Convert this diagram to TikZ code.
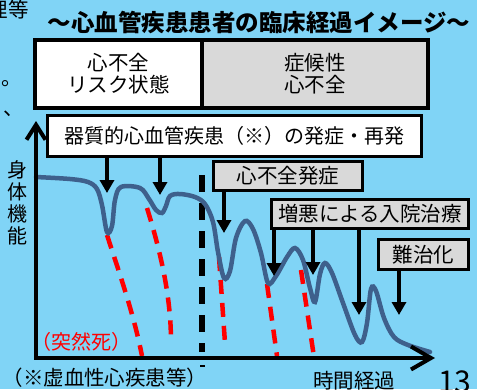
\documentclass[tikz,border=0pt]{standalone}
\usepackage{fontspec}
\setmainfont{Noto Sans CJK JP}
\usetikzlibrary{arrows.meta,positioning}
\definecolor{bgblue}{RGB}{128,212,246}
\definecolor{curveblue}{RGB}{62,96,140}
\definecolor{boxgray}{RGB}{217,217,217}

\begin{document}
\begin{tikzpicture}[x=1pt,y=-1pt,
  phase/.style={draw, line width=4pt, minimum height=68pt, inner sep=0pt, align=center, font=\fontsize{20.5}{24}\selectfont},
  event/.style={draw, line width=3pt, fill=boxgray, minimum height=29pt, inner sep=0pt, font=\fontsize{20.5}{24}\selectfont},
  hit/.style={line width=4pt, -{Triangle[width=14pt,length=13pt]}},
  death/.style={red, line width=4.5pt, dash pattern=on 14pt off 9pt},
  label/.style={font=\fontsize{20.5}{22}\selectfont, inner sep=0pt}]

  \fill[bgblue] (0,0) rectangle (477,389);
  \useasboundingbox (0,0) rectangle (477,389);

  \coordinate (origin) at (36,358);
  \coordinate (ytop) at (36,121);
  \coordinate (xend) at (435,358);

  \draw[death] (107,235) .. controls (120,275) and (134,315) .. (142,356);
  \draw[death] (147,208) .. controls (160,250) and (171,295) .. (171,342);
  \draw[death] (219,257) -- (225,343);
  \draw[death] (267,284) -- (277,356);
  \draw[death] (301,270) -- (314,357);
  \draw[line width=6pt, dash pattern=on 17pt off 11pt] (202,175) -- (202,352);
  \draw[line width=1.2pt] (200,366) -- (205,366);

  \draw[curveblue, line width=4.5pt, line cap=round] plot[smooth, tension=0.55] coordinates {
    (36,177) (70,179) (88,182) (97,189) (102,205) (107,232) (112,226) (115,200) (121,187)
    (140,188) (149,199) (156,210) (162,213) (166,206) (170,196) (180,194) (195,197)
    (205,204) (213,222) (218,252) (224,278) (230,271) (236,238) (245,221) (253,229)
    (261,253) (268,283) (276,276) (287,257) (295,248) (303,260) (310,288) (315,302)
    (320,274) (325,263) (332,273) (343,303) (355,335) (362,342) (367,323) (371,289)
    (376,291) (384,318) (394,337) (408,345) (430,352)};

  \draw[line width=4pt, line join=miter, {Straight Barb[length=15pt,width=19pt]}-{Straight Barb[length=20pt,width=23pt]}]
    (ytop) -- (origin) -- (xend);

  \node[phase, fill=white, minimum width=167pt] (risk) at (118.5,74) {\raisebox{-5pt}{\shortstack{心不全\\リスク状態}}};
  \node[phase, fill=boxgray, minimum width=226pt] (symptom) at (315,74) {\raisebox{-5pt}{\shortstack{症候性\\心不全}}};
  \node[phase, fill=white, line width=3pt, minimum width=374pt, minimum height=41pt, font=\fontsize{20}{24}\selectfont] (onset) at (234.5,136) {器質的心血管疾患（※）の発症・再発};

  \node[event, minimum width=149pt] (hfonset) at (288,176) {心不全発症};
  \node[event, minimum width=197pt] (admit) at (370,214) {増悪による入院治療};
  \node[event, minimum width=90pt, minimum height=30pt] (refract) at (423.5,254.5) {難治化};

  \coordinate (t1) at (107,193);
  \coordinate (t2) at (160,195);
  \coordinate (t3) at (224,233);
  \coordinate (t4) at (274,276);
  \coordinate (t5) at (313,275);
  \coordinate (t6) at (359,315);
  \coordinate (t7) at (399,315);
  \draw[hit] (onset.south -| t1) -- (t1);
  \draw[hit] (onset.south -| t2) -- (t2);
  \draw[hit] (hfonset.south -| t3) -- (t3);
  \draw[hit] (admit.south -| t4) -- (t4);
  \draw[hit] (admit.south -| t5) -- (t5);
  \draw[hit] (admit.south -| t6) -- (t6);
  \draw[hit] (refract.south -| t7) -- (t7);

  \node[font=\bfseries\fontsize{23.5}{26}\selectfont, inner sep=0pt] (title) at (259,22) {～心血管疾患患者の臨床経過イメージ～};
  \node[label, align=center, font=\fontsize{20}{22}\selectfont] (yname) at (18,203) {身\\体\\機\\能};
  \node[label, red, font=\fontsize{20}{22}\selectfont] (sudden) at (81,342) {（突然死）};
  \node[label] (note) at (105,378) {（※虚血性心疾患等）};
  \node[label] (xname) at (354,381) {時間経過};
  \node[anchor=base west, inner sep=0pt, font=\fontsize{30}{30}\selectfont] (page) at (438,392) {13};

  \node[label, anchor=east] (frag1) at (29,10) {理等};
  \node[label] (frag2) at (12,84) {。};
  \node[label] (frag3) at (14,114) {、};
\end{tikzpicture}
\end{document}
